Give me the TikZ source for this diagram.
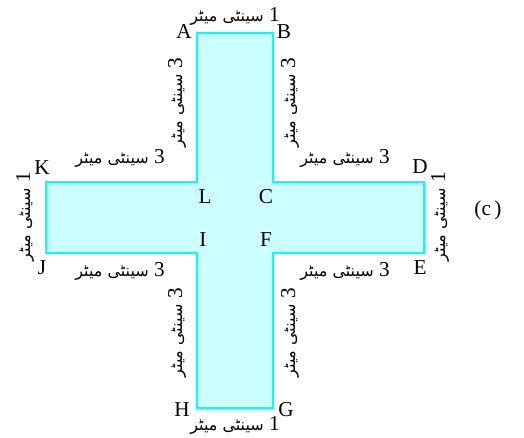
\documentclass[tikz,border=0pt]{standalone}
\usepackage{fontspec}
\setmainfont{Liberation Serif}
\newfontfamily\urdufont[Script=Arabic]{DejaVu Sans}
\TeXXeTstate=1
\usepackage{tikz}

\definecolor{edgecyan}{RGB}{0,255,255}
\definecolor{fillcyan}{RGB}{204,255,255}
\newcommand{\senti}[1]{\beginR #1 {\urdufont\fontsize{8}{9}\selectfont سینٹی میٹر}\endR}

\begin{document}
\begin{tikzpicture}[x=0.5pt, y=-0.5pt, font=\fontsize{10.6}{12}\selectfont]
            \tikzset{
                plus/.style={draw=edgecyan, line width=1.1pt, fill=fillcyan},
                side/.style={inner sep=1pt},
                upside/.style={inner sep=1pt, rotate=90}
            }
            \useasboundingbox (0,0) rectangle (524,438);

            % Các đỉnh
            \coordinate (A) at (197,33);
            \coordinate (B) at (273,33);
            \coordinate (C) at (273,182);
            \coordinate (D) at (424,182);
            \coordinate (E) at (424,253);
            \coordinate (F) at (273,253);
            \coordinate (G) at (273,408);
            \coordinate (H) at (197,408);
            \coordinate (I) at (197,253);
            \coordinate (J) at (46,253);
            \coordinate (K) at (46,182);
            \coordinate (L) at (197,182);

            % Hình chữ thập
            \draw[plus] (A) -- (B) -- (C) -- (D) -- (E) -- (F) -- (G) -- (H)
                -- (I) -- (J) -- (K) -- (L) -- cycle;

            % Ghi nhãn đỉnh
            \node (lA) at (184,32) {A};
            \node (lB) at (284,32) {B};
            \node (lC) at (266,197) {C};
            \node (lD) at (420,167) {D};
            \node (lE) at (420,268) {E};
            \node (lF) at (266,240) {F};
            \node (lG) at (286,410) {G};
            \node (lH) at (182,410) {H};
            \node (lI) at (203,240) {I};
            \node (lJ) at (42,268) {J};
            \node (lK) at (42,168) {K};
            \node (lL) at (205,197) {L};

            % Độ dài các cạnh
            \node[side] (sAB) at (235,16) {\senti{1}};
            \node[upside] (sBC) at (290,103) {\senti{3}};
            \node[side] (sCD) at (345,158) {\senti{3}};
            \node[upside] (sDE) at (440,217) {\senti{1}};
            \node[side] (sEF) at (345,271) {\senti{3}};
            \node[upside] (sFG) at (290,333) {\senti{3}};
            \node[side] (sGH) at (235,425) {\senti{1}};
            \node[upside] (sHI) at (177,333) {\senti{3}};
            \node[side] (sIJ) at (120,271) {\senti{3}};
            \node[upside] (sJK) at (25,217) {\senti{1}};
            \node[side] (sKL) at (120,158) {\senti{3}};
            \node[upside] (sLA) at (177,103) {\senti{3}};

            \node (cap) at (488,210) {(c\,)};
        \end{tikzpicture}
\end{document}
